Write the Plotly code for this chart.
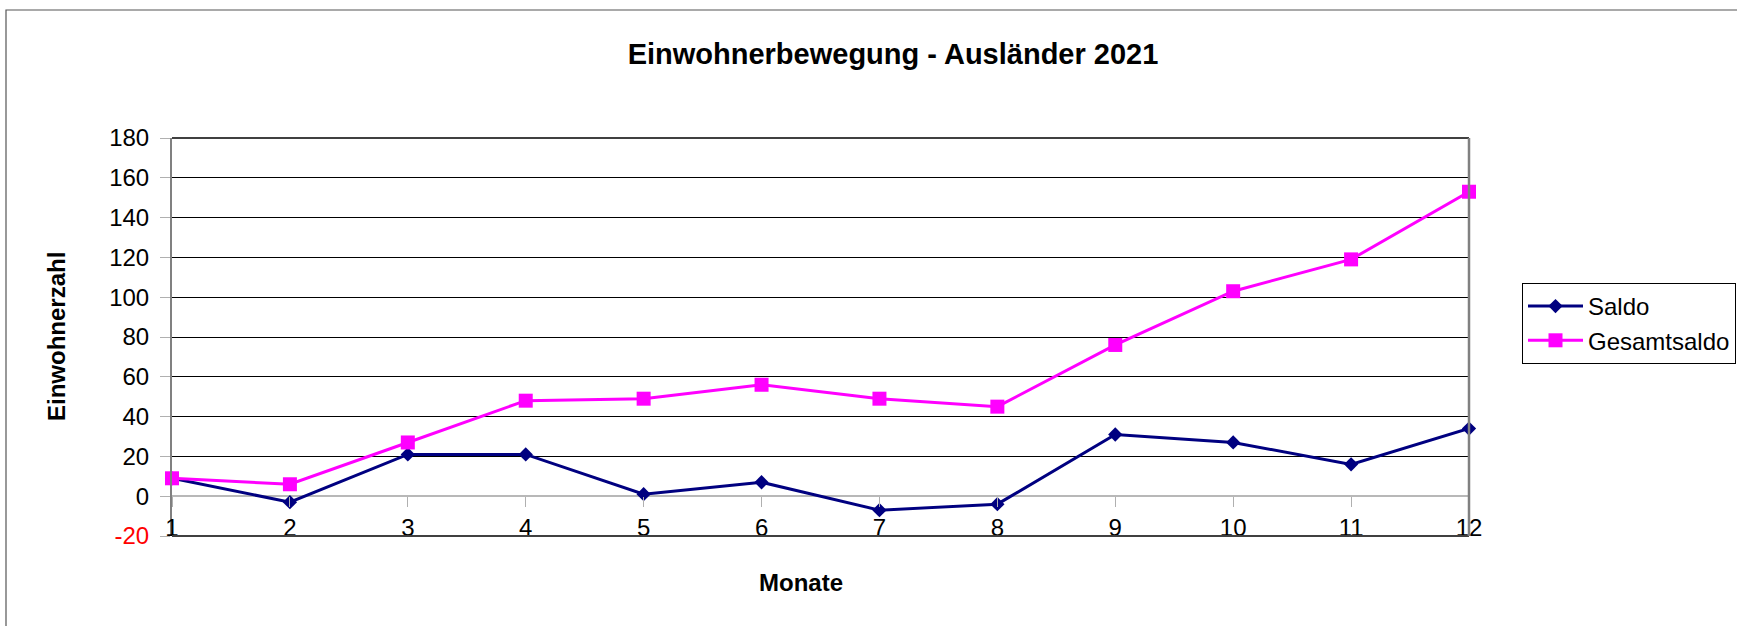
import plotly.graph_objects as go

months = [1, 2, 3, 4, 5, 6, 7, 8, 9, 10, 11, 12]
saldo = [9, -3, 21, 21, 1, 7, -7, -4, 31, 27, 16, 34]
gesamtsaldo = [9, 6, 27, 48, 49, 56, 49, 45, 76, 103, 119, 153]
y_ticks = [-20, 0, 20, 40, 60, 80, 100, 120, 140, 160, 180]
y_ticktext = ['<span style="color:#ff0000">-20</span>'] + [str(v) for v in y_ticks[1:]]

W, H = 1737, 626
L, R, T, B = 172, 1469, 138, 536
pw, ph = R - L, B - T
FONT = "Liberation Sans, Arial, sans-serif"

def px_x(x):
    return (x - L) / pw

def px_y(y):
    return (B - y) / ph

fig = go.Figure()
fig.add_trace(go.Scatter(
    x=months, y=saldo, name="Saldo", mode="lines+markers",
    line=dict(color="#000080", width=3),
    marker=dict(symbol="diamond", size=11, color="#000080"),
    cliponaxis=False,
))
fig.add_trace(go.Scatter(
    x=months, y=gesamtsaldo, name="Gesamtsaldo", mode="lines+markers",
    line=dict(color="#ff00ff", width=3),
    marker=dict(symbol="square", size=14, color="#ff00ff"),
    cliponaxis=False,
))

ymin, ymax = y_ticks[0], y_ticks[-1]
fig.update_layout(
    width=W, height=H,
    margin=dict(l=L, r=W - R, t=T, b=H - B, autoexpand=False),
    paper_bgcolor="white", plot_bgcolor="white",
    font=dict(family=FONT, size=24, color="black"),
    title=dict(text="<b>Einwohnerbewegung - Ausländer 2021</b>",
               x=893 / W, xanchor="center", xref="container",
               y=1 - 54 / H, yanchor="middle", yref="container",
               font=dict(size=29, family=FONT, color="black")),
    showlegend=True,
    legend=dict(x=px_x(1522), xanchor="left", y=px_y(283), yanchor="top",
                bordercolor="#000000", borderwidth=1, bgcolor="white",
                font=dict(size=24, family=FONT), itemwidth=55,
                tracegroupgap=0),
    xaxis=dict(range=[months[0], months[-1]], tickvals=months,
               ticktext=[str(m) for m in months],
               anchor="free", position=(0 - ymin) / (ymax - ymin),
               showline=False, showgrid=False, zeroline=False,
               ticks="outside", ticklen=10, tickcolor="#b0b0b0", tickwidth=1,
               tickfont=dict(size=24, family=FONT, color="black"),
               ticklabelstandoff=0),
    yaxis=dict(range=[ymin, ymax], tickvals=y_ticks, ticktext=y_ticktext,
               showgrid=True, gridcolor="#000000", gridwidth=1,
               zeroline=True, zerolinecolor="#b8b8b8", zerolinewidth=2,
               showline=True, linecolor="#808080", linewidth=2,
               ticks="outside", ticklen=10, tickcolor="#b0b0b0", tickwidth=1,
               tickfont=dict(size=24, family=FONT, color="black"),
               ticklabelstandoff=6),
)

# plot area frame (top / bottom dark, right gray)
fig.add_shape(type="line", xref="x domain", yref="y domain", x0=0, x1=1, y0=1, y1=1,
              line=dict(color="#404040", width=2))
fig.add_shape(type="line", xref="x domain", yref="y domain", x0=0, x1=1, y0=0, y1=0,
              line=dict(color="#404040", width=2))
fig.add_shape(type="line", xref="x domain", yref="y domain", x0=1, x1=1, y0=0, y1=1,
              line=dict(color="#808080", width=2.5))
# outer chart frame
fig.add_shape(type="rect", xref="paper", yref="paper",
              x0=px_x(6), x1=px_x(1760), y0=px_y(650), y1=px_y(10),
              line=dict(color="#555555", width=1.2), layer="below")

# axis titles
fig.add_annotation(text="<b>Monate</b>", xref="paper", yref="paper",
                   x=px_x(801), y=px_y(582), xanchor="center", yanchor="middle",
                   showarrow=False, font=dict(size=24, family=FONT, color="black"))
fig.add_annotation(text="<b>Einwohnerzahl</b>", xref="paper", yref="paper",
                   x=px_x(56), y=px_y(337), xanchor="center", yanchor="middle",
                   textangle=-90, showarrow=False,
                   font=dict(size=24, family=FONT, color="black"))

fig.write_html("out.html", config={"displayModeBar": False},
               post_script="document.body.style.margin='0';document.body.style.overflow='hidden';")
